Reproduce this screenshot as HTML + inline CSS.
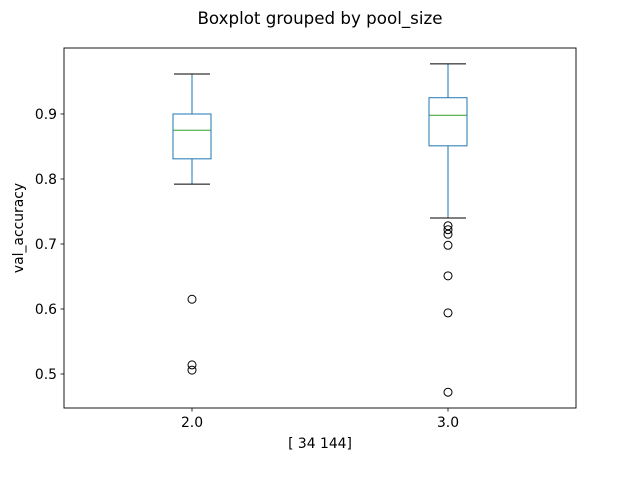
<!DOCTYPE html>
<html><head><meta charset="utf-8"><style>body{margin:0;background:#fff}svg{display:block;font-family:"DejaVu Sans","Liberation Sans",sans-serif}</style></head>
<body>
<svg id="c" width="640" height="480" viewBox="0 0 640 480">
<text x="320" y="24" text-anchor="middle" font-size="16.7">Boxplot grouped by pool_size</text>
<text x="320" y="448" text-anchor="middle" font-size="13.9">[ 34 144]</text>
<text x="23" y="228" text-anchor="middle" font-size="13.9" transform="rotate(-90 23 228)">val_accuracy</text>
<g id="g"></g>
<rect x="64" y="48" width="512" height="360" fill="none" stroke="#000" stroke-width="0.9"/>
</svg>
<script>
const categories = ["2.0", "3.0"];
const whiskerLow = [0.792, 0.740];
const q1 = [0.831, 0.851];
const median = [0.875, 0.898];
const q3 = [0.900, 0.925];
const whiskerHigh = [0.9615, 0.977];
const outliers = [[0.615, 0.514, 0.506], [0.728, 0.722, 0.715, 0.698, 0.651, 0.594, 0.472]];
const yTicks = [0.5, 0.6, 0.7, 0.8, 0.9];
const yTickLabels = ["0.5", "0.6", "0.7", "0.8", "0.9"];

const NS = "http://www.w3.org/2000/svg";
const g = document.getElementById("g");
const yMin = 0.4477, yMax = 1.0015;
function ys(v){ return 408 - (v - yMin) / (yMax - yMin) * 360; }
function xs(i){ return 64 + (i + 0.5) * 256; }
function mk(tag, attrs, parent){ const e = document.createElementNS(NS, tag); for (const k in attrs) e.setAttribute(k, attrs[k]); (parent||g).appendChild(e); return e; }

yTicks.forEach((t, i) => {
  const y = ys(t);
  const tk = mk("line", {x1: 60.5, x2: 64, y1: y, y2: y, stroke: "#000", "stroke-width": 0.8});
  
  
  const tx = mk("text", {x: 57, y: y + 5, "text-anchor": "end", "font-size": 13.9});
  tx.textContent = yTickLabels[i];
  
  
});

categories.forEach((c, i) => {
  const x = xs(i);
  const tk = mk("line", {x1: x, x2: x, y1: 408, y2: 411.5, stroke: "#000", "stroke-width": 0.8});
  
  
  const tx = mk("text", {x: x, y: 427, "text-anchor": "middle", "font-size": 13.9});
  tx.textContent = c;
  
  

  const grp = mk("g", {});
  
  
  const blue = "#1f77b4";
  mk("line", {x1: x, x2: x, y1: ys(q3[i]), y2: ys(whiskerHigh[i]), stroke: blue, "stroke-width": 1}, grp);
  mk("line", {x1: x, x2: x, y1: ys(q1[i]), y2: ys(whiskerLow[i]), stroke: blue, "stroke-width": 1}, grp);
  mk("line", {x1: x - 18, x2: x + 18, y1: ys(whiskerHigh[i]), y2: ys(whiskerHigh[i]), stroke: "#000", "stroke-width": 1}, grp);
  mk("line", {x1: x - 18, x2: x + 18, y1: ys(whiskerLow[i]), y2: ys(whiskerLow[i]), stroke: "#000", "stroke-width": 1}, grp);
  mk("rect", {x: x - 19, y: ys(q3[i]), width: 38, height: ys(q1[i]) - ys(q3[i]), fill: "none", stroke: blue, "stroke-width": 1}, grp);
  mk("line", {x1: x - 19, x2: x + 19, y1: ys(median[i]), y2: ys(median[i]), stroke: "#2ca02c", "stroke-width": 1}, grp);
  outliers[i].forEach(v => {
    const o = mk("circle", {cx: x, cy: ys(v), r: 4, fill: "none", stroke: "#000", "stroke-width": 1}, grp);
    
    
  });
});
</script>
</body></html>
